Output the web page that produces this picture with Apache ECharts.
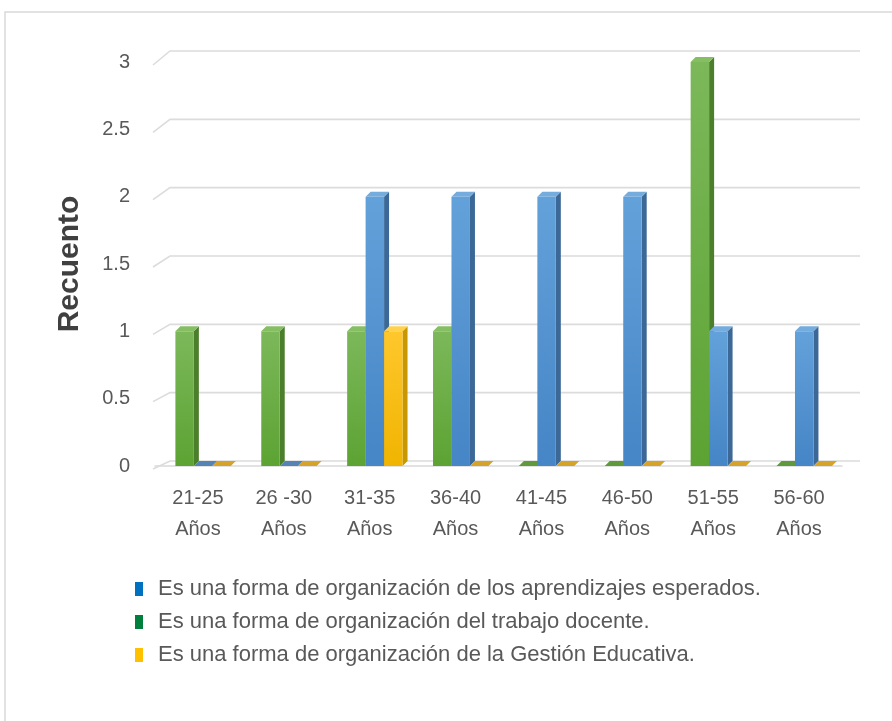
<!DOCTYPE html>
<html>
<head>
<meta charset="utf-8">
<script src="https://cdn.jsdelivr.net/npm/echarts@6/dist/echarts.min.js"></script>
<style>
  html, body { margin: 0; padding: 0; background: #fff; }
  #chart { width: 892px; height: 721px; }
</style>
</head>
<body>
<div id="chart"></div>
<script>
// categories on the x axis
var categories = ['21-25\nAños', '26 -30\nAños', '31-35\nAños', '36-40\nAños',
  '41-45\nAños', '46-50\nAños', '51-55\nAños', '56-60\nAños'];

// counts per series
var aprendizajes = [0, 0, 2, 2, 2, 2, 1, 1];
var trabajoDocente = [1, 1, 1, 1, 0, 0, 3, 0];
var gestionEducativa = [0, 0, 1, 0, 0, 0, 0, 0];

var yTicks = [0, 0.5, 1, 1.5, 2, 2.5, 3];

var names = {
  blue: 'Es una forma de organización de los aprendizajes esperados.',
  green: 'Es una forma de organización del trabajo docente.',
  yellow: 'Es una forma de organización de la Gestión Educativa.'
};

var palette = {
  green: { top: '#86bf63', front: ['#7cb85a', '#5ca333'], side: '#4b7f2b', flat: '#5e9a3c', legend: '#00803c' },
  blue: { top: '#74acde', front: ['#62a1d9', '#4685c6'], side: '#3b6896', flat: '#5583b3', legend: '#0070c0' },
  yellow: { top: '#ffd24d', front: ['#ffc72c', '#f0b400'], side: '#c99700', flat: '#d6a32a', legend: '#ffc000' }
};

function toData(arr) {
  return arr.map(function (v, i) { return [i, v]; });
}

function barRenderer(slot, c) {
  return function (params, api) {
    var cat = api.value(0), val = api.value(1);
    var base = api.coord([cat, 0]);
    var top = api.coord([cat, val]);
    var band = api.size([1, 0])[0];
    var w = band * 0.215;
    var x0 = base[0] - 1.5 * w + band * 0.06 + slot * w;
    var x1 = x0 + w;
    var yb = base[1], yt = top[1];
    var dx = 5, dy = 5;
    var children = [];
    if (val > 0) {
      children.push({
        type: 'polygon',
        shape: { points: [[x1, yt], [x1 + dx, yt - dy], [x1 + dx, yb - dy], [x1, yb]] },
        style: { fill: c.side }
      });
      children.push({
        type: 'rect',
        shape: { x: x0, y: yt, width: w, height: yb - yt },
        style: { fill: new echarts.graphic.LinearGradient(0, 0, 0, 1, [
          { offset: 0, color: c.front[0] }, { offset: 1, color: c.front[1] }]) }
      });
    }
    children.push({
      type: 'polygon',
      shape: { points: [[x0, yt], [x1, yt], [x1 + dx, yt - dy], [x0 + dx, yt - dy]] },
      style: { fill: val > 0 ? c.top : c.flat }
    });
    return { type: 'group', children: children };
  };
}

function wallRenderer(params, api) {
  var v = api.value(0);
  var y = api.coord([0, v])[1];
  var cs = params.coordSys;
  var back = y - 5 - 2 * v;
  return {
    type: 'polyline',
    shape: { points: [[cs.x - 2, y + 3], [cs.x + 15, back], [cs.x + cs.width + 18, back]] },
    style: { stroke: '#dcdcdc', lineWidth: 1.6, fill: null }
  };
}

var chart = echarts.init(document.getElementById('chart'));
chart.setOption({
  animation: false,
  textStyle: { fontFamily: 'Liberation Sans, Arial, sans-serif' },
  graphic: [{
    type: 'rect',
    shape: { x: 5, y: 12, width: 900, height: 720 },
    style: { fill: null, stroke: '#d9d9d9', lineWidth: 1.5 },
    silent: true
  }],
  grid: { left: 155, right: 50, top: 62, bottom: 255 },
  legend: {
    orient: 'vertical',
    left: 135,
    top: 578,
    padding: 0,
    itemWidth: 8,
    itemHeight: 14,
    itemGap: 11,
    icon: 'rect',
    textStyle: { fontSize: 22, color: '#595959', padding: [0, 0, 0, 10] },
    data: [
      { name: names.blue, itemStyle: { color: palette.blue.legend } },
      { name: names.green, itemStyle: { color: palette.green.legend } },
      { name: names.yellow, itemStyle: { color: palette.yellow.legend } }
    ]
  },
  xAxis: {
    type: 'category',
    data: categories,
    offset: 3,
    axisLine: { lineStyle: { color: '#d9d9d9', width: 1.5 } },
    axisTick: { length: 9, lineStyle: { color: '#d9d9d9', width: 1.5 } },
    axisLabel: { fontSize: 20, color: '#595959', lineHeight: 31, margin: 14, interval: 0 }
  },
  yAxis: {
    type: 'value',
    min: 0,
    max: 3,
    interval: 0.5,
    name: 'Recuento',
    nameLocation: 'middle',
    nameRotate: 90,
    nameGap: 70,
    nameTextStyle: { fontSize: 30, fontWeight: 'bold', color: '#404040' },
    axisLine: { show: false },
    axisTick: { show: false },
    splitLine: { show: false },
    axisLabel: { fontSize: 20, color: '#595959', margin: 25, padding: [6, 0, 0, 0] }
  },
  series: [
    {
      type: 'custom',
      name: 'wall',
      z: 1,
      silent: true,
      renderItem: wallRenderer,
      encode: { y: 0 },
      data: yTicks.map(function (v) { return [v]; })
    },
    {
      type: 'custom',
      name: names.green,
      z: 2,
      itemStyle: { color: palette.green.legend },
      renderItem: barRenderer(0, palette.green),
      encode: { x: 0, y: 1 },
      data: toData(trabajoDocente)
    },
    {
      type: 'custom',
      name: names.blue,
      z: 3,
      itemStyle: { color: palette.blue.legend },
      renderItem: barRenderer(1, palette.blue),
      encode: { x: 0, y: 1 },
      data: toData(aprendizajes)
    },
    {
      type: 'custom',
      name: names.yellow,
      z: 4,
      itemStyle: { color: palette.yellow.legend },
      renderItem: barRenderer(2, palette.yellow),
      encode: { x: 0, y: 1 },
      data: toData(gestionEducativa)
    }
  ]
});
</script>
</body>
</html>
